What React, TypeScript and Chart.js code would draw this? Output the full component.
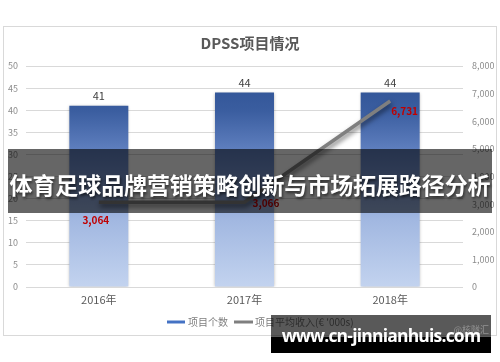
import React, { useEffect, useRef } from "react";
import { Chart, registerables } from "chart.js";

Chart.register(...registerables);

const chartTitle = "DPSS项目情况";
const categories = ["2016年", "2017年", "2018年"];
const seriesNames = ["项目个数", "项目平均收入(€ '000s)"];
const projectCounts = [41, 44, 44];
const avgIncome = [3064, 3066, 6731];
const leftAxisMax = 50;
const leftAxisStep = 5;
const rightAxisMax = 8000;
const rightAxisStep = 1000;
const lineLabelAnchors = ["below", "right", "rightBelow"];
const bannerText = "体育足球品牌营销策略创新与市场拓展路径分析";
const watermarkText = "www.cn-jinnianhuis.com";
const watermarkSmall = "@核隧汇";

const FONT = "'Noto Sans CJK SC', 'Noto Sans', sans-serif";

const fmt = (v: number) => v.toLocaleString("en-US");

const decorPlugin = {
  id: "decor",
  beforeDatasetDraw(chart: any, args: any) {
    const ctx = chart.ctx;
    ctx.save();
    if (args.index === 1) {
      ctx.shadowColor = "rgba(0,0,0,0.55)";
      ctx.shadowBlur = 5;
      ctx.shadowOffsetX = 1;
      ctx.shadowOffsetY = 3;
    } else {
      ctx.shadowColor = "rgba(0,0,0,0.3)";
      ctx.shadowBlur = 3;
      ctx.shadowOffsetX = 0;
      ctx.shadowOffsetY = 0;
    }
  },
  afterDatasetDraw(chart: any) {
    chart.ctx.restore();
  },
  afterDraw(chart: any) {
    const ctx = chart.ctx;
    ctx.save();
    // title
    ctx.font = `bold 15px ${FONT}`;
    ctx.fillStyle = "#595959";
    ctx.textAlign = "center";
    ctx.textBaseline = "middle";
    ctx.fillText(chartTitle, 250, 43);

    // bar labels
    const barMeta = chart.getDatasetMeta(0);
    ctx.font = `11px ${FONT}`;
    ctx.fillStyle = "#404040";
    barMeta.data.forEach((el: any, i: number) => {
      ctx.fillText(String(projectCounts[i]), el.x, el.y - 10);
    });

    // line labels
    const lineMeta = chart.getDatasetMeta(1);
    ctx.font = `bold 10px ${FONT}`;
    ctx.fillStyle = "#c00000";
    lineMeta.data.forEach((el: any, i: number) => {
      const a = lineLabelAnchors[i];
      const txt = fmt(avgIncome[i]);
      if (a === "below") {
        ctx.textAlign = "center";
        ctx.fillText(txt, el.x - 3, el.y + 18);
      } else if (a === "right") {
        ctx.textAlign = "left";
        ctx.fillText(txt, el.x + 8, el.y + 1);
      } else {
        ctx.textAlign = "left";
        ctx.fillText(txt, el.x + 1, el.y + 10);
      }
    });

    // legend
    ctx.textAlign = "left";
    ctx.font = `10px ${FONT}`;
    const ly = 322;
    ctx.lineWidth = 3;
    ctx.strokeStyle = "#4472c4";
    ctx.beginPath();
    ctx.moveTo(167, ly);
    ctx.lineTo(185, ly);
    ctx.stroke();
    ctx.fillStyle = "#7f7f7f";
    ctx.fillText(seriesNames[0], 188, ly);
    ctx.strokeStyle = "#7f7f7f";
    ctx.beginPath();
    ctx.moveTo(234, ly);
    ctx.lineTo(253, ly);
    ctx.stroke();
    ctx.fillText(seriesNames[1], 255, ly);
    ctx.restore();
  },
};

export default function App() {
  const ref = useRef<HTMLCanvasElement | null>(null);

  useEffect(() => {
    document.body.style.margin = "0";
    const canvas = ref.current!;
    const ctx = canvas.getContext("2d")!;
    const chart = new Chart(ctx, {
      type: "bar",
      data: {
        labels: categories,
        datasets: [
          {
            type: "bar",
            label: seriesNames[0],
            data: projectCounts,
            yAxisID: "y",
            order: 2,
            categoryPercentage: 1,
            barPercentage: 0.405,
            borderWidth: 0,
            backgroundColor: (c: any) => {
              const area = c.chart.chartArea;
              if (!area) return "#4472c4";
              const g = c.chart.ctx.createLinearGradient(0, area.top, 0, area.bottom);
              g.addColorStop(0, "#2b4f92");
              g.addColorStop(0.2, "#3a5d9f");
              g.addColorStop(0.45, "#6d8ccb");
              g.addColorStop(0.7, "#a2b8e1");
              g.addColorStop(1, "#c3d3ef");
              return g;
            },
          } as any,
          {
            type: "line",
            label: seriesNames[1],
            data: avgIncome,
            yAxisID: "y1",
            order: 1,
            borderColor: "#7f7f7f",
            borderWidth: 3.5,
            pointRadius: 0,
            tension: 0,
            fill: false,
          } as any,
        ],
      },
      options: {
        animation: false,
        responsive: false,
        devicePixelRatio: 1,
        layout: { padding: { top: 66, bottom: 55, left: 0, right: 0 } },
        plugins: {
          legend: { display: false },
          title: { display: false },
          tooltip: { enabled: false },
        },
        scales: {
          x: {
            offset: true,
            grid: { display: false, drawTicks: false },
            border: { display: false },
            ticks: {
              color: "#595959",
              font: { size: 11, family: FONT },
              padding: 6,
            },
            afterFit: (s: any) => {
              s.height = 20;
            },
          },
          y: {
            position: "left",
            min: 0,
            max: leftAxisMax,
            grid: { color: "#d9d9d9", lineWidth: 1, drawTicks: false },
            border: { display: false },
            ticks: {
              stepSize: leftAxisStep,
              color: "#8c8c8c",
              font: { size: 9, family: FONT },
              padding: 8,
            },
            afterFit: (s: any) => {
              s.width = 26;
            },
          },
          y1: {
            position: "right",
            min: 0,
            max: rightAxisMax,
            grid: { display: false, drawTicks: false },
            border: { display: false },
            ticks: {
              stepSize: rightAxisStep,
              color: "#8c8c8c",
              font: { size: 9, family: FONT },
              padding: 9,
              callback: (v: any) => fmt(Number(v)),
            },
            afterFit: (s: any) => {
              s.width = 37;
            },
          },
        },
      },
      plugins: [decorPlugin],
    });
    return () => chart.destroy();
  }, []);

  return (
    <div style={{ position: "relative", width: 500, height: 362, background: "#fff", overflow: "hidden" }}>
      <div
        style={{
          position: "absolute",
          left: 3,
          top: 26,
          width: 492,
          height: 308,
          border: "1px solid #d9d9d9",
          background: "#fff",
        }}
      />
      <canvas ref={ref} width={500} height={362} style={{ position: "absolute", left: 0, top: 0, width: 500, height: 362 }} />
      <div
        style={{
          position: "absolute",
          left: 8,
          top: 149,
          width: 484,
          height: 64,
          background: "rgba(0,0,0,0.6)",
          display: "flex",
          alignItems: "center",
          justifyContent: "center",
          paddingTop: 6,
          boxSizing: "border-box",
        }}
      >
        <span
          style={{
            color: "#fff",
            fontFamily: "'Noto Sans CJK SC', sans-serif",
            fontWeight: 700,
            fontSize: 23,
            whiteSpace: "nowrap",
            letterSpacing: -0.1,
            textShadow: "1px 2px 3px rgba(0,0,0,0.6)",
          }}
        >
          {bannerText}
        </span>
      </div>
      <div
        style={{
          position: "absolute",
          left: 271,
          top: 315,
          width: 220,
          height: 38,
          background:
            "linear-gradient(to bottom, rgba(0,0,0,0.65) 0%, rgba(0,0,0,0.65) 58%, #000 58%, #000 100%)",
        }}
      >
        <span
          style={{
            position: "absolute",
            right: 2,
            top: 8,
            fontSize: 9,
            color: "rgba(170,170,170,0.7)",
            fontFamily: "'Noto Sans CJK SC', sans-serif",
          }}
        >
          {watermarkSmall}
        </span>
        <div
          style={{
            position: "absolute",
            left: 0,
            width: 220,
            top: 7,
            textAlign: "center",
            color: "#fff",
            fontFamily: "'Open Sans', 'Noto Sans', sans-serif",
            fontWeight: 700,
            fontSize: 17.5,
            letterSpacing: -0.8,
            lineHeight: "26px",
            whiteSpace: "nowrap",
          }}
        >
          {watermarkText}
        </div>
      </div>
    </div>
  );
}
